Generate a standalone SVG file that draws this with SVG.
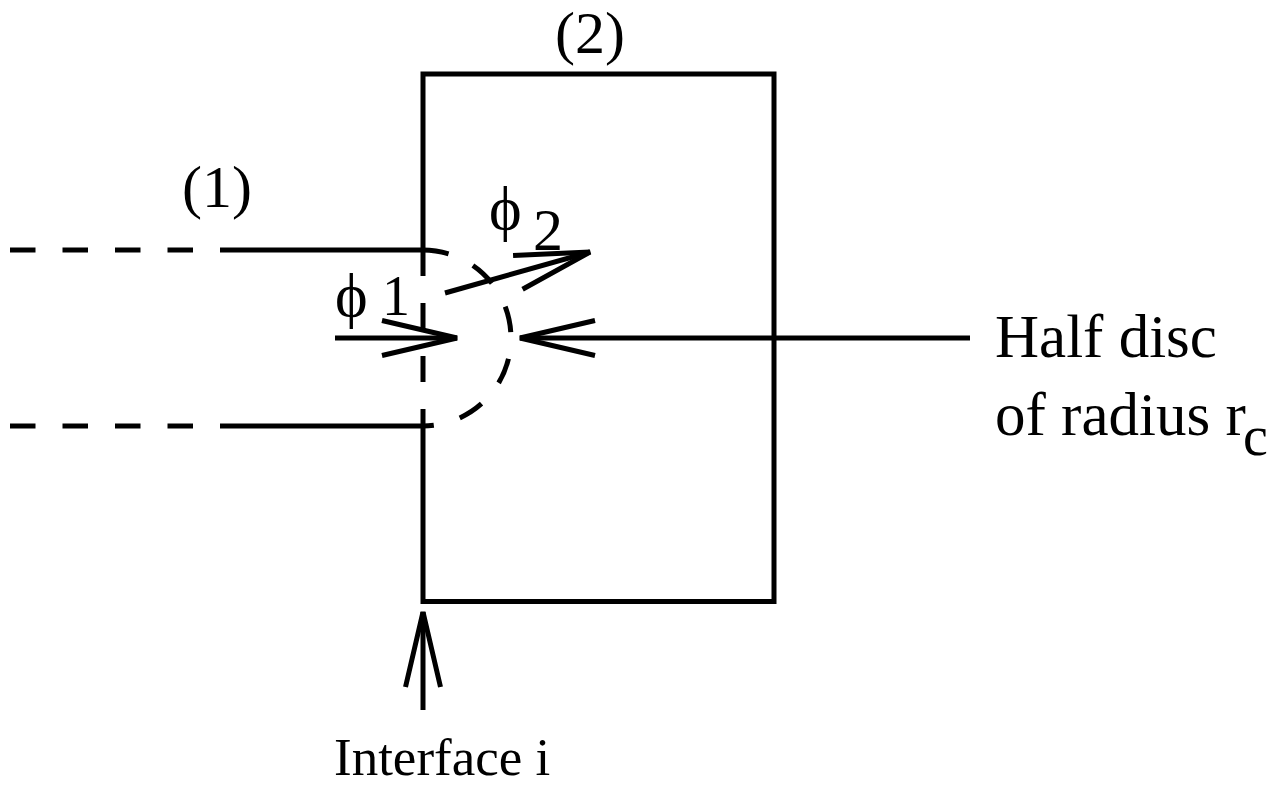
<svg xmlns="http://www.w3.org/2000/svg" width="1288" height="789" viewBox="0 0 1288 789">
  <defs>
    <marker id="vhead" markerUnits="userSpaceOnUse" markerWidth="100" markerHeight="100" refX="0" refY="0" orient="auto" overflow="visible" viewBox="-90 -50 100 100">
      <path d="M -75 -17.5 L 0 0 L -75 17.5" fill="none" stroke="#000" stroke-width="5"/>
    </marker>
    <style>
      .ln { fill: none; stroke: #000; stroke-width: 5; }
      .dash { stroke-dasharray: 26 27; }
      .hdash { stroke-dasharray: 25.5 27; }
      .arrow { marker-end: url(#vhead); }
      text { font-family: "Liberation Serif", "Times New Roman", serif; fill: #000; }
      .lbl { font-size: 60px; }
      .phi { font-size: 62px; }
      .big { font-size: 61px; }
      .small { font-size: 53px; }
      .sub { font-size: 56px; }
    </style>
  </defs>
  <rect width="1288" height="789" fill="#fff"/>

  <g id="region2">
    <path class="ln" d="M423 250 L423 74 L774 74 L774 601.5 L423 601.5 L423 426"/>
    <path class="ln dash" d="M423 250 L423 426"/>
    <text class="lbl" x="555" y="53">(2)</text>
  </g>

  <g id="region1">
    <path class="ln hdash" d="M10 250 L221 250"/>
    <path class="ln" d="M221 250 L423 250"/>
    <path class="ln hdash" d="M10 426 L221 426"/>
    <path class="ln" d="M221 426 L423 426"/>
    <text class="lbl" x="182" y="207">(1)</text>
  </g>

  <g id="halfdisc">
    <path class="ln dash" d="M423 250 A88 88 0 0 1 423 426"/>
  </g>

  <g id="phi1">
    <text class="phi" x="335" y="316">ϕ</text>
    <text class="sub" x="382" y="315">1</text>
  </g>

  <g id="phi2">
    <text class="phi" x="489" y="229">ϕ</text>
    <text class="lbl" x="533" y="250">2</text>
  </g>

  <g id="label-halfdisc">
    <text class="big" x="995" y="357">Half disc</text>
    <text class="big" x="995" y="435">of radius r</text>
    <text class="sub" x="1243" y="455">c</text>
  </g>

  <g id="label-interface">
    <text class="small" x="334" y="775">Interface i</text>
  </g>

  <g id="connectors">
    <path class="ln arrow" d="M335 338 L457 338"/>
    <path class="ln arrow" d="M445 293 L590 252"/>
    <path class="ln arrow" d="M970 338 L520 338"/>
    <path class="ln arrow" d="M423 710 L423 612"/>
  </g>
</svg>
